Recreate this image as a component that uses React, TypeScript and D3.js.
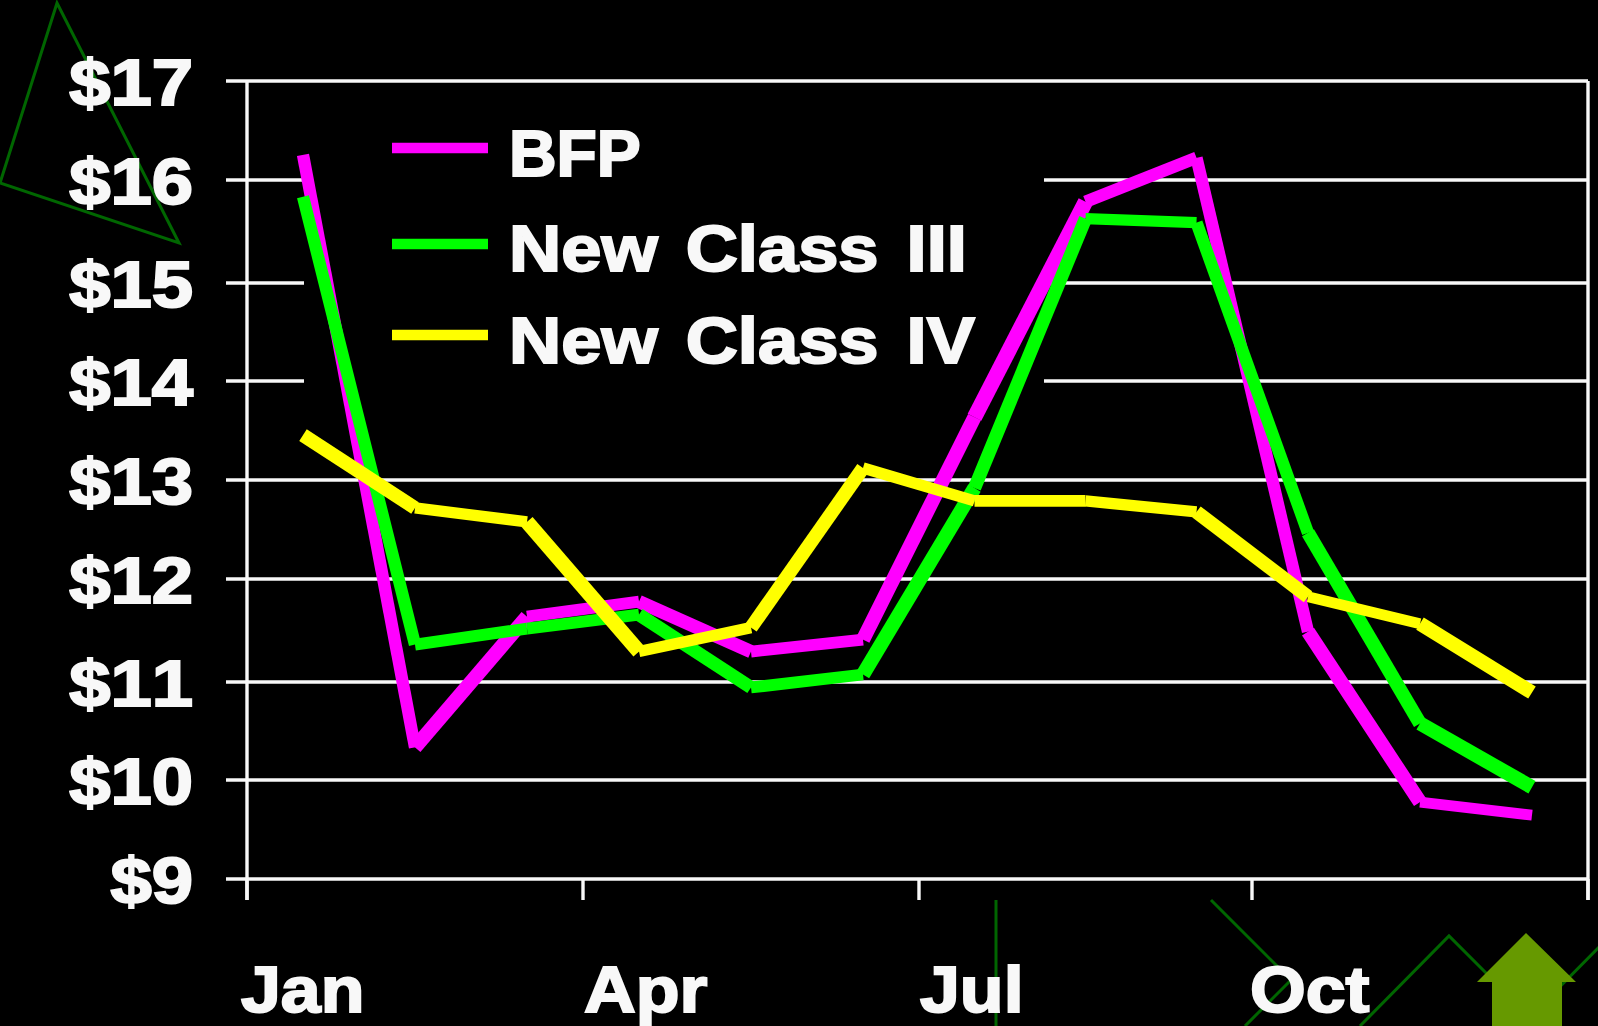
import React from "react";
import * as d3 from "d3";

const months = ["Jan","Feb","Mar","Apr","May","Jun","Jul","Aug","Sep","Oct","Nov","Dec"];
const bfp = [16.26,10.32,11.63,11.78,11.28,11.40,13.63,15.79,16.23,11.48,9.77,9.64];
const classIII = [15.84,11.35,11.51,11.65,10.92,11.05,12.92,15.62,15.58,12.47,10.56,9.92];
const classIV = [13.45,12.72,12.58,11.28,11.52,13.12,12.79,12.79,12.68,11.83,11.56,10.87];
const yTicks = [9,10,11,12,13,14,15,16,17];
const xTickMonths = [0,3,6,9,12];
const xLabels = ["Jan","Apr","Jul","Oct"];
const xLabelNudge = [-6,1,1,-2];

const W = 1598, H = 1026;
const x0 = 247, x1 = 1588, yBottom = 879, yTop = 81;
const FG = "#f8f8f8";
const DECOR = "#006600";

// tick marks of the picture sit on whole, slightly uneven pixels
const xEdge = d3.scaleLinear().domain(xTickMonths).range([x0,583,919,1252,x1]);
const xMid = (i:number) => xEdge(i+0.5);
const y = d3.scaleLinear().domain([9,17]).range([yBottom,yTop]);
const yGrid = d3.scaleLinear().domain(yTicks).range([879,780,682,579,480,381,283,180,81]);

const series = [
  {name:"BFP", values:bfp, color:"#ff00ff", legendY:148, textY:176, sx:1.03,
   widths:[11,13,10.5,12,10.5,13,14,11,11,13,9.5]},
  {name:"New Class III", values:classIII, color:"#00ff00", legendY:244, textY:271, sx:1.13,
   widths:[11,10.5,10.5,12,10.5,13,12,10,11,12.5,13]},
  {name:"New Class IV", values:classIV, color:"#ffff00", legendY:335, textY:363, sx:1.13,
   widths:[12.5,10,13.5,10,12.5,10,10.5,10,12.5,9.5,13]},
];
const widthBoost = 1.3;

const decorPaths = [
  "M57,3 L179,243 L0,183 Z",
  "M996,900 L996,1026",
  "M1211,900 L1291,980 L1245,1026",
  "M1360,1026 L1449,936 L1530,1017 L1600,946",
];
const arrowPath = "M1526,933 L1576,982 L1562,982 L1562,1026 L1492,1026 L1492,982 L1477,982 Z";

const Label = ({x,y:ty,anchor,sx=1.12,ws=0,children}:{x:number;y:number;anchor?:string;sx?:number;ws?:number;children:React.ReactNode}) => (
  <text transform={`translate(${x},${ty}) scale(${sx},1)`} textAnchor={anchor||"start"}
    fontFamily="'Liberation Sans', Arial, sans-serif" fontWeight="700" fontSize={64}
    fill={FG} stroke={FG} strokeWidth={2} strokeLinejoin="miter"
    style={{fontKerning:"none",wordSpacing:ws}}>{children}</text>
);

export default function App(){
  return (
    <svg width={W} height={H} viewBox={`0 0 ${W} ${H}`}
      style={{position:"absolute",left:0,top:0,display:"block",background:"#000"}}>
      <rect width={W} height={H} fill="#000"/>
      {decorPaths.map((d,i)=>(<path key={i} d={d} fill="none" stroke={DECOR} strokeWidth={3}/>))}
      <path d={arrowPath} fill="#669900"/>

      {yTicks.map(t=>(
        <line key={t} x1={226} x2={x1} y1={yGrid(t)} y2={yGrid(t)} stroke={FG} strokeWidth={3.4}/>
      ))}
      <line x1={x0} x2={x0} y1={yTop} y2={900} stroke={FG} strokeWidth={3.4}/>
      <line x1={x1} x2={x1} y1={yTop} y2={900} stroke={FG} strokeWidth={3.4}/>
      {xTickMonths.map(m=>(
        <line key={m} x1={xEdge(m)} x2={xEdge(m)} y1={yBottom} y2={900} stroke={FG} strokeWidth={3.4}/>
      ))}

      <rect x={304} y={100} width={740} height={340} fill="#000"/>

      {series.map(s=>(
        <g key={s.name}>
          {d3.pairs(s.values).map(([a,b],i)=>(
            <line key={months[i]} x1={xMid(i)} y1={y(a)} x2={xMid(i+1)} y2={y(b)}
              stroke={s.color} strokeWidth={s.widths[i]+widthBoost} strokeLinecap="butt"/>
          ))}
        </g>
      ))}

      {yTicks.map(t=>(
        <Label key={t} x={193} y={yGrid(t)+24} anchor="end" sx={1.16}>{`$${t}`}</Label>
      ))}
      {xLabels.map((l,i)=>(
        <Label key={l} x={xEdge(xTickMonths[i])+xLabelNudge[i]} y={1012}>{l}</Label>
      ))}

      {series.map(s=>(
        <g key={s.name}>
          <line x1={392} x2={488} y1={s.legendY} y2={s.legendY} stroke={s.color} strokeWidth={10.5}/>
          <Label x={509} y={s.textY} sx={s.sx} ws={7}>{s.name}</Label>
        </g>
      ))}
    </svg>
  );
}
